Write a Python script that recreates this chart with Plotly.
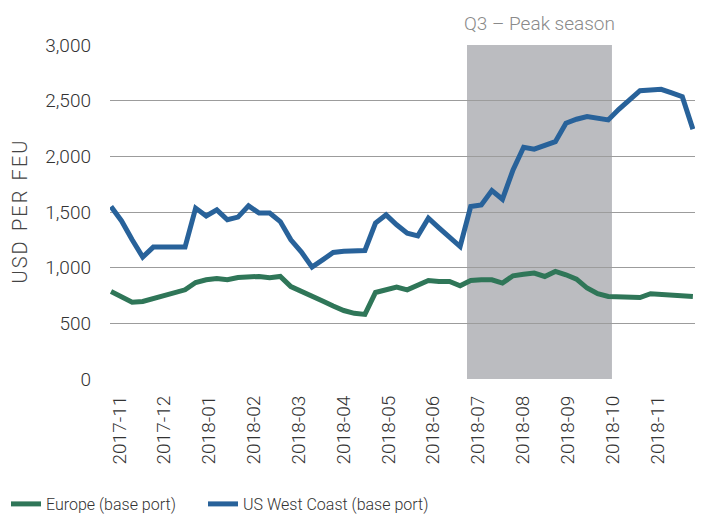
import plotly.graph_objects as go

# Weekly freight rates, USD per FEU (index = week number from first observation)
week = list(range(56))
europe = [786, 735, 690, 696, 720, 745, 770, 801, 867, 891, 903, 891, 912, 912,
          921, 909, 921, 830, 790, 745, 700, 655, 615, 590, 580, 777, 801, 826,
          801, 837, 885, 876, 876, 837, 885, 891, 891, 862, 927, 940, 951, 921,
          966, 936, 897, 817, 766, 741, 735, 732, 732, 766, 757, 754, 741, 741]
us_west = [1549, 1420, 1250, 1095, 1185, 1185, 1185, 1185, 1535, 1465, 1519, 1430,
           1454, 1555, 1490, 1490, 1414, 1250, 1140, 1005, 1070, 1136, 1147, 1154,
           1154, 1400, 1474, 1385, 1310, 1286, 1445, 1358, 1272, 1190, 1549, 1564,
           1693, 1615, 1878, 2082, 2064, 2094, 2132, 2297, 2333, 2357, 2345, 2327,
           2422, 2509, 2590, 2596, 2602, 2569, 2536, 2244]
month_labels = ["2017-11", "2017-12", "2018-01", "2018-02", "2018-03", "2018-04",
                "2018-05", "2018-06", "2018-07", "2018-08", "2018-09", "2018-10",
                "2018-11"]
first_label_week = 0.8
weeks_per_label = 4.237
month_ticks = [first_label_week + i * weeks_per_label for i in range(len(month_labels))]
q3_start, q3_end = 33.65, 47.35
y_ticks = [0, 500, 1000, 1500, 2000, 2500, 3000]

FONT = "Roboto, 'Open Sans', sans-serif"
GREEN = "#2f7658"
BLUE = "#28629a"
W, H = 705, 516

fig = go.Figure()
fig.add_trace(go.Scatter(x=week, y=europe, mode="lines", name="Europe (base port)",
                         line=dict(color=GREEN, width=5), legend="legend"))
fig.add_trace(go.Scatter(x=week, y=us_west, mode="lines", name="US West Coast (base port)",
                         line=dict(color=BLUE, width=5), legend="legend2"))

fig.add_shape(type="rect", xref="x", yref="paper", x0=q3_start, x1=q3_end, y0=0, y1=1,
              fillcolor="#bbbcc0", line=dict(width=0), layer="below")
fig.add_annotation(x=(q3_start + q3_end) / 2, xref="x", y=1, yref="paper",
                   yanchor="middle", yshift=22, showarrow=False,
                   text="Q3 – Peak season",
                   font=dict(family=FONT, size=19, color="#8a8a8a", weight=300))

legend_font = dict(family=FONT, size=16, color="#333333", weight=300)
common_legend = dict(orientation="h", xref="container", yref="container",
                     y=12 / H, xanchor="left", yanchor="middle", itemwidth=30,
                     bgcolor="rgba(0,0,0,0)", font=legend_font)

fig.update_layout(
    template="none",
    width=W, height=H,
    margin=dict(l=110, r=10, t=45, b=137, autoexpand=False),
    paper_bgcolor="white", plot_bgcolor="white",
    font=dict(family=FONT, size=19, color="#333333", weight=300),
    showlegend=True,
    legend=dict(x=6 / W, **common_legend),
    legend2=dict(x=203 / W, **common_legend),
)
fig.update_xaxes(range=[-0.095, 55.2], tickmode="array", tickvals=month_ticks,
                 ticktext=month_labels, tickangle=-90, showgrid=False, automargin=False,
                 zeroline=False, showline=False, ticks="", ticklabelstandoff=12,
                 tickfont=dict(family=FONT, size=19, color="#333333", weight=300))
fig.update_yaxes(range=[0, 3000], tickmode="array", tickvals=y_ticks, automargin=False,
                 tickformat=",", showgrid=True, gridcolor="#9c9c9c", gridwidth=1.2,
                 zeroline=False, showline=False, ticks="", ticklabelstandoff=18,
                 tickfont=dict(family=FONT, size=19, color="#333333", weight=300),
                 title=dict(text="U S D  P E R  F E U".replace(" ", "\u200a").replace("\u200a\u200a", "\u2002"),
                            standoff=12,
                            font=dict(family=FONT, size=20, color="#444444", weight=300)))

fig.write_html("out.html", config={"displayModeBar": False},
               post_script="document.body.style.margin='0';")
